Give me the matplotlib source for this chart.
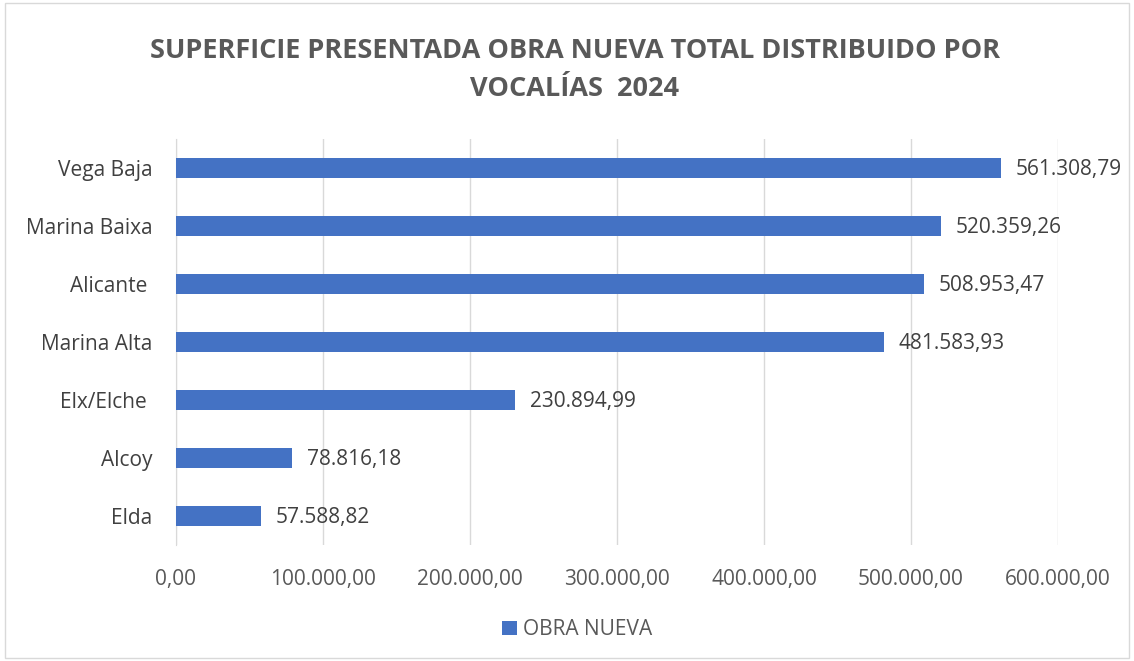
import matplotlib
matplotlib.use("Agg")
import matplotlib.pyplot as plt
from matplotlib.patches import Rectangle

# Datos (de abajo hacia arriba)
vocalias = ["Elda", "Alcoy", "Elx/Elche ", "Marina Alta", "Alicante ", "Marina Baixa", "Vega Baja"]
superficie = [57588.82, 78816.18, 230894.99, 481583.93, 508953.47, 520359.26, 561308.79]
ticks = [0, 100000, 200000, 300000, 400000, 500000, 600000]


def fmt_es(v):
    s = f"{v:,.2f}"
    return s.replace(",", "X").replace(".", ",").replace("X", ".")


plt.rcParams["font.family"] = ["Open Sans", "DejaVu Sans"]
gris = "#595959"

fig = plt.figure(figsize=(11.34, 6.61), dpi=100)
ax = fig.add_axes([0.1552, 0.1755, 0.7778, 0.6142])

bars = ax.barh(vocalias, superficie, height=0.345, color="#4472C4", label="OBRA NUEVA", zorder=3)
for b, v in zip(bars, superficie):
    ax.text(b.get_width() + 10000, b.get_y() + b.get_height() / 2 - 0.03, fmt_es(v),
            va="center", ha="left", fontsize=15, color="#404040")

ax.set_xlim(0, 600000)
ax.set_ylim(-0.5, len(vocalias) - 0.5)
ax.set_xticks(ticks)
ax.set_xticklabels([fmt_es(t) for t in ticks], fontsize=15, color=gris)
ax.tick_params(axis="y", labelsize=15, labelcolor="#404040", length=0, pad=17)
ax.tick_params(axis="x", length=0, pad=17)
ax.grid(axis="x", color="#d9d9d9", linewidth=1, zorder=0)
for s in ["top", "right", "bottom"]:
    ax.spines[s].set_visible(False)
ax.spines["left"].set_color("#d9d9d9")

fig.text(0.507, 0.923, "SUPERFICIE PRESENTADA OBRA NUEVA TOTAL DISTRIBUIDO POR",
         ha="center", va="center", fontsize=19.5, fontweight="bold", color=gris)
fig.text(0.507, 0.865, "VOCALÍAS  2024",
         ha="center", va="center", fontsize=19.5, fontweight="bold", color=gris)

fig.legend(loc="center", bbox_to_anchor=(0.509, 0.047), frameon=False, fontsize=15,
           handlelength=0.7, handleheight=0.7, handletextpad=0.3, labelcolor=gris)

fig.patches.append(Rectangle((0.004, 0.004), 0.992, 0.992, transform=fig.transFigure,
                             fill=False, edgecolor="#d9d9d9", linewidth=1))

fig.savefig("out.png", dpi=100)
